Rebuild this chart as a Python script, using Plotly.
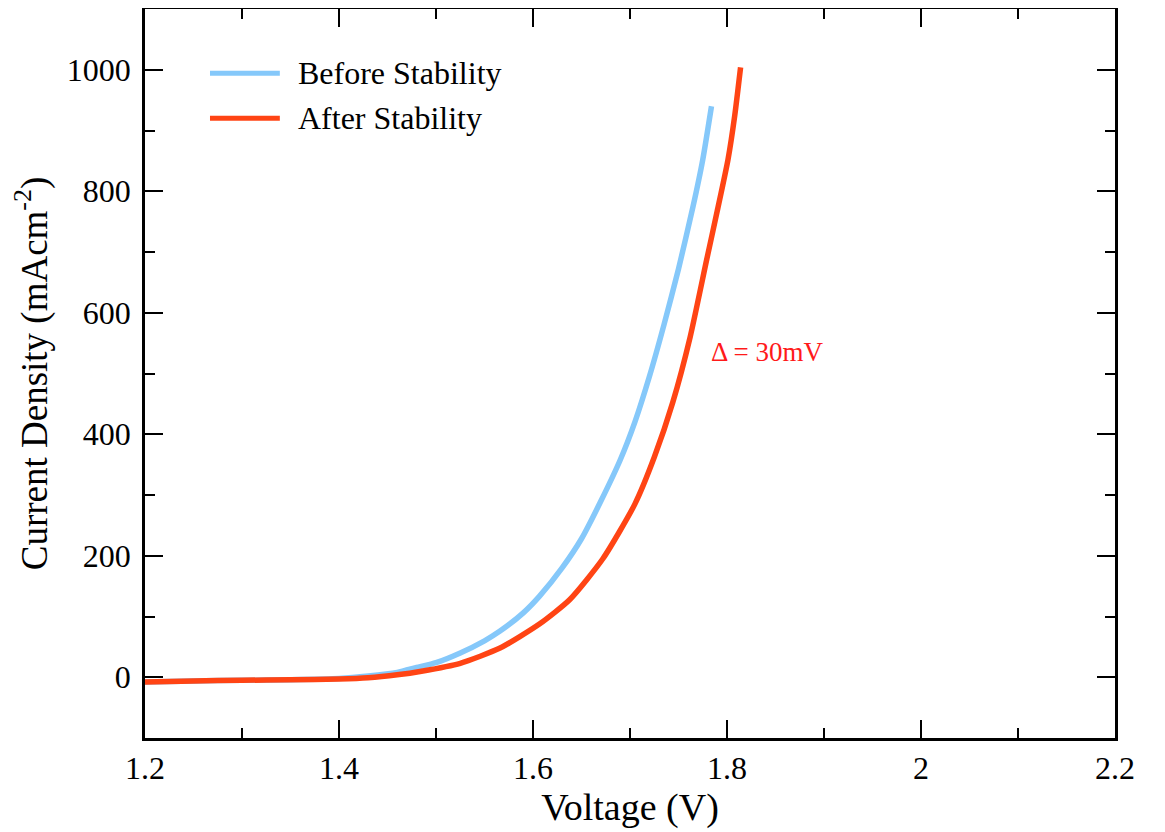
import plotly.graph_objects as go

# Data
voltage_before = [1.20, 1.25, 1.30, 1.35, 1.40, 1.43, 1.46, 1.48, 1.50, 1.525, 1.55, 1.566,
                  1.59, 1.607, 1.63, 1.65, 1.67, 1.69, 1.705, 1.72, 1.735, 1.75, 1.765, 1.775, 1.784]
current_before = [-8, -6, -5, -4, -2, 2, 8, 16, 24, 40, 60, 76,
                  106, 134, 180, 228, 290, 358, 420, 495, 580, 672, 775, 852, 940]

voltage_after = [1.20, 1.25, 1.30, 1.35, 1.40, 1.43, 1.46, 1.485, 1.525, 1.566, 1.607, 1.638,
                 1.672, 1.705, 1.725, 1.744, 1.762, 1.779, 1.79, 1.801, 1.808, 1.814]
current_after = [-8, -6, -5, -4, -3, -1, 4, 10, 23, 48, 88, 128,
                 195, 285, 362, 452, 560, 687, 768, 852, 925, 1004]

series_names = ["Before Stability", "After Stability"]
series_colors = ["#85C8FA", "#FF4414"]

x_ticks = [1.2, 1.4, 1.6, 1.8, 2.0, 2.2]
x_labels = ["1.2", "1.4", "1.6", "1.8", "2", "2.2"]
y_ticks = [0, 200, 400, 600, 800, 1000]

FONT = "Liberation Serif, Times New Roman, serif"

fig = go.Figure()
fig.add_trace(go.Scatter(x=voltage_before, y=current_before, mode="lines",
                         name=series_names[0], showlegend=False,
                         line=dict(color=series_colors[0], width=5.5, shape="spline", smoothing=0.6)))
fig.add_trace(go.Scatter(x=voltage_after, y=current_after, mode="lines",
                         name=series_names[1], showlegend=False,
                         line=dict(color=series_colors[1], width=5.5, shape="spline", smoothing=0.6)))

# Manual legend (line samples + labels) in paper coordinates
legend_y = [0.912, 0.850]
for name, color, ly in zip(series_names, series_colors, legend_y):
    fig.add_shape(type="line", xref="paper", yref="paper",
                  x0=0.067, x1=0.139, y0=ly, y1=ly,
                  line=dict(color=color, width=5))
    fig.add_annotation(xref="paper", yref="paper", x=0.156, y=ly, text=name,
                       showarrow=False, xanchor="left", yanchor="middle",
                       font=dict(family=FONT, size=32, color="black"))

fig.add_annotation(x=1.7815, y=535, text="Δ = 30mV", showarrow=False,
                   xanchor="left", yanchor="middle",
                   font=dict(family=FONT, size=27, color="#FF1A1A"))

axis_common = dict(
    showline=True, linecolor="black", linewidth=2.5, mirror="allticks",
    ticks="inside", ticklen=18, tickwidth=2.2, tickcolor="black",
    showgrid=False, zeroline=False, automargin=False,
    tickfont=dict(family=FONT, size=32, color="black"),
)

fig.update_xaxes(range=[1.2, 2.2], tickvals=x_ticks, ticktext=x_labels,
                 minor=dict(ticks="inside", ticklen=10, tickwidth=2.2, tickcolor="black", dtick=0.1, tick0=1.2),
                 title=dict(text="Voltage (V)", font=dict(family=FONT, size=38, color="black"), standoff=3),
                 **axis_common)
fig.update_yaxes(range=[-100, 1100], tickvals=y_ticks, ticklabelstandoff=5,
                 minor=dict(ticks="inside", ticklen=10, tickwidth=2.2, tickcolor="black", dtick=100, tick0=0),
                 title=dict(text="Current Density (mAcm<sup>-2</sup>)", font=dict(family=FONT, size=37, color="black"), standoff=16),
                 **axis_common)

# The page body adds an 8px offset, so margins are shifted to keep the plot area in place
fig.update_layout(
    width=1165, height=832,
    margin=dict(l=137, r=58, t=1, b=102),
    paper_bgcolor="white", plot_bgcolor="white",
    showlegend=False,
)

fig.write_html("out.html")
